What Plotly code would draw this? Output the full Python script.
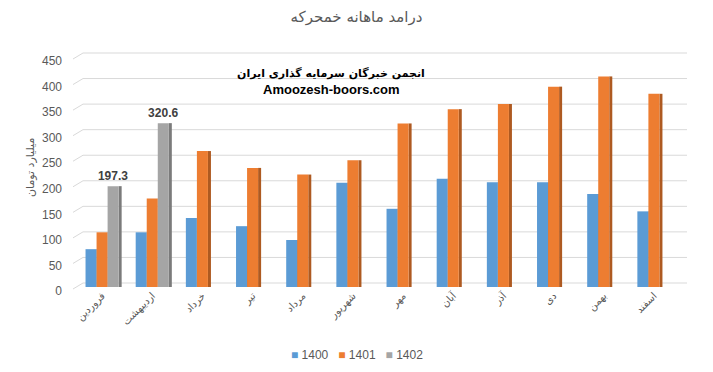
import plotly.graph_objects as go

months = ["فروردین", "اردیبهشت", "خرداد", "تیر", "مرداد", "شهریور",
          "مهر", "آبان", "آذر", "دی", "بهمن", "اسفند"]
v1400 = [74, 107, 135, 119, 92, 204, 153, 212, 205, 205, 182, 148]
v1401 = [107, 173, 266, 233, 220, 248, 320, 348, 358, 392, 412, 378]
v1402 = [197.3, 320.6]
months_1402 = months[:2]
y_ticks = [0, 50, 100, 150, 200, 250, 300, 350, 400, 450]
series_names = ["1400", "1401", "1402"]

series = [
    (series_names[0], months, v1400, "#5B9BD5", "#41719C", -0.33),
    (series_names[1], months, v1401, "#ED7D31", "#AE5A21", -0.11),
    (series_names[2], months_1402, v1402, "#A5A5A5", "#7B7B7B", 0.11),
]

W = 0.22
SIDE = 0.06
fig = go.Figure()
for name, cats, vals, col, dark, off in series:
    fig.add_trace(go.Bar(x=cats, y=vals, offset=off + W, width=SIDE,
                         marker=dict(color=dark, line=dict(width=0)),
                         showlegend=False, hoverinfo="skip"))
for name, cats, vals, col, dark, off in series:
    kw = {}
    if name == "1402":
        kw = dict(text=[f"{v:.1f}" for v in vals], textposition="outside",
                  textfont=dict(family="Liberation Sans", size=12, color="#404040"),
                  texttemplate="<b>%{text}</b>", cliponaxis=False,
                  constraintext="none")
    fig.add_trace(go.Bar(x=cats, y=vals, name=name, offset=off, width=W,
                         marker=dict(color=col, line=dict(width=0)),
                         showlegend=False, **kw))

PH = 230.0  # plot height in px
PW = 602.0  # plot width in px
L = 77
T = 57
shapes = []
for t in y_ticks:
    yp = t / 450
    back = yp + 4 / PH
    shapes.append(dict(type="line", xref="paper", yref="paper",
                       x0=(83 - L) / PW, x1=(687 - L) / PW, y0=back, y1=back,
                       line=dict(color="#D9D9D9", width=1), layer="below"))
    shapes.append(dict(type="line", xref="paper", yref="paper",
                       x0=(73 - L) / PW, x1=(83 - L) / PW, y0=yp - 2 / PH, y1=back,
                       line=dict(color="#D9D9D9", width=1), layer="below"))

legend_text = "&nbsp;&nbsp;&nbsp;".join(
    f"<span style='color:{c}'>■</span> {n}" for n, _, _, c, _, _ in series)


def py(pix):
    return (T + PH - pix) / PH


def px(pix):
    return (pix - L) / PW


fig.update_layout(
    width=713, height=372,
    margin=dict(l=L, r=713 - L - int(PW), t=T, b=372 - T - int(PH)),
    paper_bgcolor="white", plot_bgcolor="white",
    barmode="overlay",
    showlegend=False,
    shapes=shapes,
    title=dict(text="درامد ماهانه خمحرکه", x=0.5, xref="container", xanchor="center",
               yref="container", y=1 - 11 / 372, yanchor="top",
               font=dict(family="DejaVu Sans", size=15, color="#595959")),
    xaxis=dict(type="category", categoryorder="array", categoryarray=months,
               range=[-0.5, 11.5], tickangle=-45, showgrid=False,
               showline=False, ticks="", automargin=False,
               tickfont=dict(family="DejaVu Sans", size=10, color="#595959")),
    yaxis=dict(range=[0, 450], tickvals=y_ticks, showgrid=False, zeroline=False,
               showline=False, ticks="", ticklabelshift=4, ticklabelstandoff=14,
               automargin=False,
               tickfont=dict(family="Liberation Sans", size=12, color="#595959")),
    annotations=[
        dict(text="میلیارد تومان", xref="paper", yref="paper",
             x=px(30), y=py(168), showarrow=False, textangle=-90,
             xanchor="center", yanchor="middle",
             font=dict(family="DejaVu Sans", size=11, color="#595959")),
        dict(text="<b>انجمن خبرگان سرمایه گذاری ایران</b>", xref="paper", yref="paper",
             x=px(331), y=py(73), showarrow=False, yanchor="middle",
             font=dict(family="DejaVu Sans", size=11, color="black")),
        dict(text="<b>Amoozesh-boors.com</b>", xref="paper", yref="paper",
             x=px(331), y=py(89), showarrow=False, yanchor="middle",
             font=dict(family="Liberation Sans", size=13, color="black")),
        dict(text=legend_text, xref="paper", yref="paper",
             x=px(357), y=py(355), showarrow=False,
             xanchor="center", yanchor="middle",
             font=dict(family="Liberation Sans", size=12, color="#595959")),
    ],
)

fig.write_html("out.html", config={"displayModeBar": False},
               post_script="document.body.style.margin='0';")
